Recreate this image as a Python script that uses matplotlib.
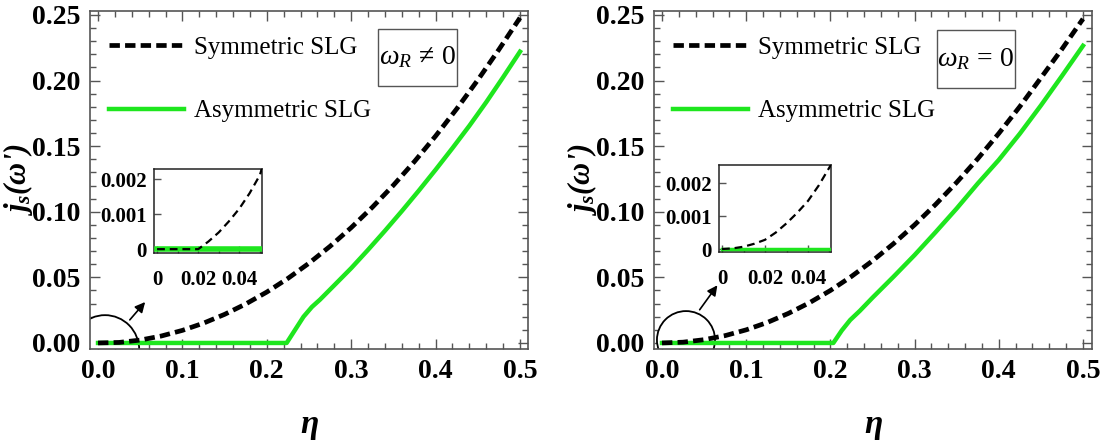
import matplotlib
matplotlib.use("Agg")
import matplotlib.pyplot as plt
from matplotlib.patches import Ellipse, Rectangle
from matplotlib.ticker import MultipleLocator, FormatStrFormatter, FixedLocator

plt.rcParams['font.family'] = ['Liberation Serif', 'DejaVu Serif']
plt.rcParams['mathtext.fontset'] = 'custom'
plt.rcParams['mathtext.rm'] = 'Liberation Serif'
plt.rcParams['mathtext.it'] = 'Liberation Serif:italic'
plt.rcParams['mathtext.bf'] = 'Liberation Serif:bold'
plt.rcParams['mathtext.bfit'] = 'Liberation Serif:bold:italic'

# ---- data ----
eta_sym = [0, 0.025, 0.05, 0.075, 0.1, 0.125, 0.15, 0.175, 0.2, 0.225, 0.25,
           0.275, 0.3, 0.325, 0.35, 0.375, 0.4, 0.425, 0.45, 0.475, 0.5]
sym_left = [0, 0.0004, 0.0022, 0.0053, 0.0096, 0.0151, 0.0218, 0.0297, 0.0388, 0.0492, 0.0608,
            0.0737, 0.0879, 0.1034, 0.1202, 0.1383, 0.1577, 0.1784, 0.2004, 0.2236, 0.2478]
sym_right = [0, 0.0006, 0.0025, 0.0056, 0.0100, 0.0156, 0.0225, 0.0306, 0.0400, 0.0507, 0.0626,
             0.0757, 0.0900, 0.1056, 0.1224, 0.1404, 0.1597, 0.1802, 0.2020, 0.2240, 0.2470]

eta_asym_left = [0, 0.2235, 0.2335, 0.2435, 0.2535, 0.263, 0.28, 0.30, 0.32, 0.34, 0.36,
                 0.38, 0.40, 0.42, 0.44, 0.46, 0.48, 0.50]
asym_left = [0, 0, 0.0100, 0.0200, 0.0275, 0.0330, 0.0440, 0.0570, 0.0710, 0.0855, 0.1005,
             0.1160, 0.1320, 0.1485, 0.1655, 0.1835, 0.2025, 0.2220]
eta_asym_right = [0, 0.2035, 0.2135, 0.2235, 0.235, 0.25, 0.275, 0.30, 0.325, 0.35, 0.375,
                  0.40, 0.425, 0.45, 0.475, 0.50]
asym_right = [0, 0, 0.0095, 0.0175, 0.0245, 0.0345, 0.0505, 0.0670, 0.0845, 0.1025, 0.1215,
              0.1395, 0.1595, 0.1810, 0.2035, 0.2265]

# insets (zoom near the origin)
eta_in_left = [0, 0.02, 0.025, 0.03, 0.035, 0.04, 0.045, 0.05, 0.051]
sym_in_left = [0, 0, 0.00022, 0.00048, 0.00080, 0.00116, 0.00160, 0.00212, 0.00232]
eta_in_right = [0, 0.005, 0.01, 0.015, 0.02, 0.025, 0.03, 0.035, 0.04, 0.045, 0.05, 0.051]
sym_in_right = [0, 0.00002, 0.00007, 0.00016, 0.00028, 0.00050, 0.00078, 0.00110, 0.00146,
                0.00193, 0.00248, 0.0026]
eta_in_flat = [0, 0.051]
asym_in_flat = [0, 0]

labels = ["Symmetric SLG", "Asymmetric SLG"]
box_texts = [r"$\omega_R\,\neq\,0$", r"$\omega_R\,=\,0$"]

GREEN = "#1ee61e"
FRAME = "#555555"
W, H = 1111, 443

fig = plt.figure(figsize=(W / 100, H / 100), dpi=100)


def px(x0, y0, x1, y1):
    # pixel box -> figure fraction
    return [x0 / W, (H - y1) / H, (x1 - x0) / W, (y1 - y0) / H]


def main_panel(rect, sym, eta_a, asym, boxtxt, box, xr, circ, arrow):
    ax = fig.add_axes(rect)
    ax.set_facecolor("none")
    l1, = ax.plot(eta_sym, sym, color="black", lw=3.4, ls=(0, (2.2, 1.1)), zorder=4)
    l2, = ax.plot(eta_a, asym, color=GREEN, lw=3.2, zorder=3)
    ax.set_xlim(-0.0095, xr)
    ax.set_ylim(-0.0046, 0.2530)
    ax.xaxis.set_major_locator(MultipleLocator(0.1))
    ax.xaxis.set_minor_locator(MultipleLocator(0.02))
    ax.yaxis.set_major_locator(MultipleLocator(0.05))
    ax.yaxis.set_minor_locator(MultipleLocator(0.01))
    ax.xaxis.set_major_formatter(FormatStrFormatter("%.1f"))
    ax.yaxis.set_major_formatter(FormatStrFormatter("%.2f"))
    ax.tick_params(which="both", direction="in", top=True, right=True, color=FRAME, width=1)
    ax.tick_params(which="major", length=7, labelsize=20, pad=7)
    ax.tick_params(which="minor", length=4)
    for lab in ax.get_xticklabels() + ax.get_yticklabels():
        lab.set_fontweight("bold")
    for s in ax.spines.values():
        s.set_color(FRAME)
        s.set_linewidth(1.2)
    ax.set_xlabel(r"$\mathbfit{\eta}$", fontsize=24, labelpad=20)
    ax.set_ylabel(r"$\mathbfit{j}_{\mathbfit{s}}$(ω')", fontsize=22, fontweight="bold",
                  fontstyle="italic", labelpad=-2)
    ax.legend([l1, l2], labels, loc="upper left", bbox_to_anchor=(0.02, 0.955),
              frameon=False, fontsize=18, handlelength=3.0, handletextpad=0.4,
              labelspacing=1.65, borderaxespad=0)
    # framed label
    ax.add_patch(Rectangle(box[:2], box[2], box[3], transform=ax.transAxes,
                           fc="white", ec=FRAME, lw=1, zorder=6))
    ax.text(box[0] + box[2] / 2, box[1] + box[3] / 2, boxtxt, transform=ax.transAxes,
            fontsize=20, ha="center", va="center", zorder=7)
    e = Ellipse(circ[:2], circ[2], circ[3], fc="white", ec="black", lw=1.3, zorder=2)
    ax.add_patch(e)
    ax.annotate("", xy=arrow[2:], xytext=arrow[:2],
                arrowprops=dict(arrowstyle="-|>,head_length=0.6,head_width=0.3",
                                color="black", lw=1.2), zorder=5)
    return ax


def inset(rect, eta_s, s, xl, yl, lw_green):
    ax = fig.add_axes(rect)
    ax.set_facecolor("white")
    ax.plot(eta_in_flat, asym_in_flat, color=GREEN, lw=lw_green, zorder=3)
    ax.plot(eta_s, s, color="black", lw=1.6, ls=(0, (3.5, 2.2)), zorder=4)
    ax.set_xlim(*xl)
    ax.set_ylim(*yl)
    ax.xaxis.set_major_locator(FixedLocator([0, 0.02, 0.04]))
    ax.xaxis.set_minor_locator(MultipleLocator(0.01))
    ax.yaxis.set_major_locator(FixedLocator([0, 0.001, 0.002]))
    ax.set_xticklabels(["0", "0.02", "0.04"])
    ax.set_yticklabels(["0", "0.001", "0.002"])
    ax.tick_params(which="both", direction="in", color=FRAME, width=1)
    ax.tick_params(which="major", length=5, labelsize=15)
    ax.tick_params(which="minor", length=3)
    ax.tick_params(axis="x", pad=12)
    ax.tick_params(axis="y", pad=5)
    for lab in ax.get_xticklabels() + ax.get_yticklabels():
        lab.set_fontweight("bold")
    for sp in ax.spines.values():
        sp.set_color("#222222")
        sp.set_linewidth(1.1)
    return ax


main_panel(px(90, 11, 528, 349), sym_left, eta_asym_left, asym_left,
           box_texts[0], (0.6575, 0.778, 0.180, 0.169), 0.5095,
           (0.0083, -0.0053, 0.081, 0.053), (0.0355, 0.016, 0.058, 0.0328))
main_panel(px(654, 11, 1092, 349), sym_right, eta_asym_right, asym_right,
           box_texts[1], (0.646, 0.772, 0.178, 0.1716), 0.5107,
           (0.0285, 0.0023, 0.069, 0.044), (0.0428, 0.0236, 0.0677, 0.0457))

inset(px(154, 169, 262, 253), eta_in_left, sym_in_left,
      (-0.0015, 0.051), (-0.00011, 0.00229), 4.0)
inset(px(719, 165, 831, 252), eta_in_right, sym_in_right,
      (-0.0014, 0.0507), (-0.00009, 0.00255), 2.5)

fig.savefig("out.png", dpi=100)
